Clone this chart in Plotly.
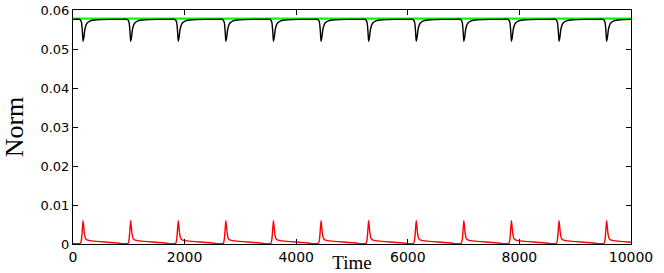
import plotly.graph_objects as go

# spike / dip times
spike_times = [180, 1033, 1886, 2739, 3592, 4445, 5298, 6151, 7004, 7857, 8710, 9563]

# one red pulse, offsets relative to spike time and values
red_offsets = [-150, -45, -28, -14, 0, 12, 25, 45, 80, 150, 300, 500, 650]
red_values = [0.0001, 0.0002, 0.0012, 0.0035, 0.0060, 0.0045, 0.0026, 0.0014, 0.0010, 0.0008, 0.0006, 0.0004, 0.0002]

# one black dip
black_offsets = [-150, -60, -30, -12, 0, 15, 35, 70, 130, 250, 500]
black_values = [0.0576, 0.0576, 0.0569, 0.0545, 0.0520, 0.0530, 0.0552, 0.0566, 0.0572, 0.0575, 0.0576]

green_level = 0.0578
x_range = [0, 10000]
x_ticks = [0, 2000, 4000, 6000, 8000, 10000]
y_ticks = [0, 0.01, 0.02, 0.03, 0.04, 0.05, 0.06]
y_ticklabels = ["0", "0.01", "0.02", "0.03", "0.04", "0.05", "0.06"]


def build(offsets, values, start_val):
    xs, ys = [0], [start_val]
    for t in spike_times:
        for o, v in zip(offsets, values):
            xs.append(t + o)
            ys.append(v)
    return xs, ys


rx, ry = build(red_offsets, red_values, red_values[0])
bx, by = build(black_offsets, black_values, black_values[0])

fig = go.Figure()
fig.add_trace(go.Scatter(x=[x_range[0], x_range[1]], y=[green_level, green_level], mode="lines",
                         line=dict(color="#00ff00", width=2.2), showlegend=False))
fig.add_trace(go.Scatter(x=bx, y=by, mode="lines", line=dict(color="black", width=1.4, shape="spline", smoothing=0.6),
                         showlegend=False))
fig.add_trace(go.Scatter(x=rx, y=ry, mode="lines", line=dict(color="#ff0000", width=1.4, shape="spline", smoothing=0.6),
                         showlegend=False))

axis_common = dict(showline=True, linecolor="black", linewidth=1, mirror="ticks", ticks="inside",
                   ticklen=5, tickcolor="black", showgrid=False, zeroline=False, automargin=False)

fig.update_xaxes(range=x_range, tickvals=x_ticks, ticktext=[str(v) for v in x_ticks],
                 tickfont=dict(family="DejaVu Sans", size=14, color="black"),
                 title=dict(text="Time", font=dict(family="Liberation Serif", size=19, color="black"), standoff=0),
                 **axis_common)
fig.update_yaxes(range=[0, 0.06], tickvals=y_ticks, ticktext=y_ticklabels,
                 tickfont=dict(family="DejaVu Sans", size=13, color="black"),
                 title=dict(text="Norm", font=dict(family="Liberation Serif", size=26, color="black"), standoff=10),
                 **axis_common)

fig.update_layout(width=664, height=273, margin=dict(l=73, r=33, t=10, b=29),
                  plot_bgcolor="white", paper_bgcolor="white")

# remove the default page margin so the figure sits at the window's top-left corner
fig.write_html("out.html", config={"displayModeBar": False},
               post_script="document.body.style.margin='0';")
